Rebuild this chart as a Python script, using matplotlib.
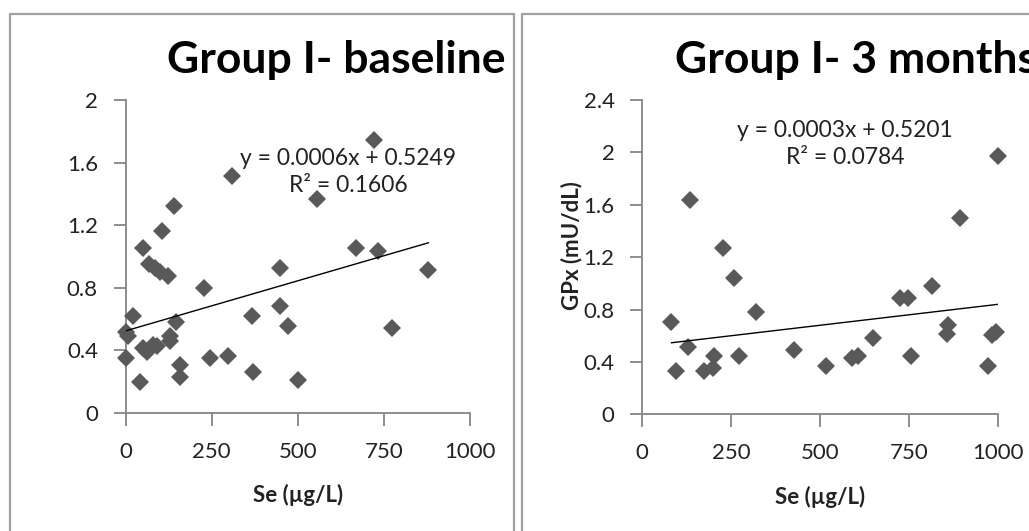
import numpy as np
import matplotlib as mpl
mpl.use('agg')
import matplotlib.pyplot as plt
from matplotlib.patches import Rectangle

plt.rcParams['font.family'] = ['Lato', 'DejaVu Sans']

# baseline panel: Se (ug/L) vs GPx (mU/dL)
base_se = [721, 309, 557, 140, 104, 49, 669, 734, 69, 85, 100, 124, 448, 879,
           227, 448, 22, 366, 146, 472, 773, 0, 8, 129, 129, 51, 61, 80, 90,
           0, 245, 298, 158, 158, 371, 42, 501]
base_gpx = [1.745, 1.517, 1.370, 1.323, 1.166, 1.053, 1.057, 1.032, 0.953,
            0.926, 0.904, 0.877, 0.926, 0.915, 0.798, 0.685, 0.617, 0.621,
            0.581, 0.557, 0.543, 0.517, 0.489, 0.489, 0.457, 0.415, 0.387,
            0.436, 0.426, 0.351, 0.351, 0.366, 0.304, 0.230, 0.262, 0.196,
            0.213]

# 3 months panel
m3_se = [1000, 134, 892, 226, 258, 814, 724, 747, 319, 82, 860, 855, 981, 993,
         647, 129, 427, 202, 272, 607, 588, 754, 95, 173, 199, 516, 970]
m3_gpx = [1.97, 1.636, 1.496, 1.267, 1.038, 0.980, 0.891, 0.891, 0.779, 0.702,
          0.682, 0.613, 0.606, 0.631, 0.580, 0.517, 0.491, 0.445, 0.445, 0.445,
          0.427, 0.445, 0.333, 0.333, 0.351, 0.369, 0.369]

# trendline coefficients (from the chart's labels; slope shown rounded)
base_fit = (0.00064, 0.5249)
m3_fit = (0.00032, 0.5201)

titles = ["Group I- baseline", "Group I- 3 months"]
equations = ["y = 0.0006x + 0.5249\nR² = 0.1606",
             "y = 0.0003x + 0.5201\nR² = 0.0784"]
x_ticks = [0, 250, 500, 750, 1000]
y_ticks_base = [0, 0.4, 0.8, 1.2, 1.6, 2]
y_ticks_m3 = [0, 0.4, 0.8, 1.2, 1.6, 2, 2.4]

W, H = 1029, 531
fig = plt.figure(figsize=(W / 100, H / 100), dpi=100)

axis_grey = '#868686'
marker_grey = '#595959'
text_col = '#222222'

# chart area frames
fig.patches.append(Rectangle((10 / W, -0.1), 504 / W, 1.1 - 14 / H, transform=fig.transFigure,
                             fill=False, edgecolor='#a0a0a0', linewidth=1.6))
fig.patches.append(Rectangle((522 / W, -0.1), 0.6, 1.1 - 14 / H, transform=fig.transFigure,
                             fill=False, edgecolor='#a0a0a0', linewidth=1.6))

ax1 = fig.add_axes([125.7 / W, (H - 413) / H, 344.3 / W, 313 / H])
ax2 = fig.add_axes([642.3 / W, (H - 414.3) / H, 356 / W, 314.3 / H])

panels = [
    (ax1, base_se, base_gpx, base_fit, y_ticks_base, equations[0], (0.646, 0.770)),
    (ax2, m3_se, m3_gpx, m3_fit, y_ticks_m3, equations[1], (0.569, 0.860)),
]

for ax, xs, ys, fit, yt, eq, eqpos in panels:
    xs = np.array(xs, dtype=float)
    ys = np.array(ys, dtype=float)
    ax.plot(xs, ys, linestyle='none', marker='D', markersize=9,
            color=marker_grey, markeredgewidth=0, clip_on=False, zorder=3)
    # linear trendline over the data range
    xl = np.array([xs.min(), xs.max()])
    ax.plot(xl, fit[0] * xl + fit[1], color='black', linewidth=1.0, zorder=4)

    ax.set_xlim(0, 1000)
    ax.set_ylim(0, yt[-1])
    ax.set_xticks(x_ticks)
    ax.set_yticks(yt)
    ax.set_yticklabels([('%g' % v) for v in yt])
    for s in ['top', 'right']:
        ax.spines[s].set_visible(False)
    for s in ['left', 'bottom']:
        ax.spines[s].set_color(axis_grey)
        ax.spines[s].set_linewidth(1.3)
    ax.tick_params(axis='both', direction='out', length=9, width=1.3,
                   color=axis_grey, labelsize=16, labelcolor=text_col)
    ax.tick_params(axis='y', pad=11)
    ax.tick_params(axis='x', pad=12)
    ax.set_facecolor('none')
    ax.text(eqpos[0], eqpos[1], eq, transform=ax.transAxes, ha='center',
            va='center', fontsize=16.5, color=text_col, linespacing=1.3,
            zorder=5)
    ax.set_xlabel("Se (µg/L)", fontsize=16, fontweight='bold', color=text_col)
    ax.xaxis.set_label_coords(0.5, (413 - 495) / 313)
    ax.xaxis.label.set_verticalalignment('center')

ax2.set_ylabel("GPx (mU/dL)", fontsize=16, fontweight='bold', color=text_col)
ax2.yaxis.set_label_coords((572 - 642.3) / 356, (414.3 - 246) / 314.3)
ax2.yaxis.label.set_verticalalignment('center')

fig.text(167 / W, 1 - 73 / H, titles[0], ha='left', va='baseline',
         fontsize=32, fontweight='bold', color='black')
fig.text(675 / W, 1 - 73 / H, titles[1], ha='left', va='baseline',
         fontsize=32, fontweight='bold', color='black')

fig.savefig('out.png', dpi=100)
